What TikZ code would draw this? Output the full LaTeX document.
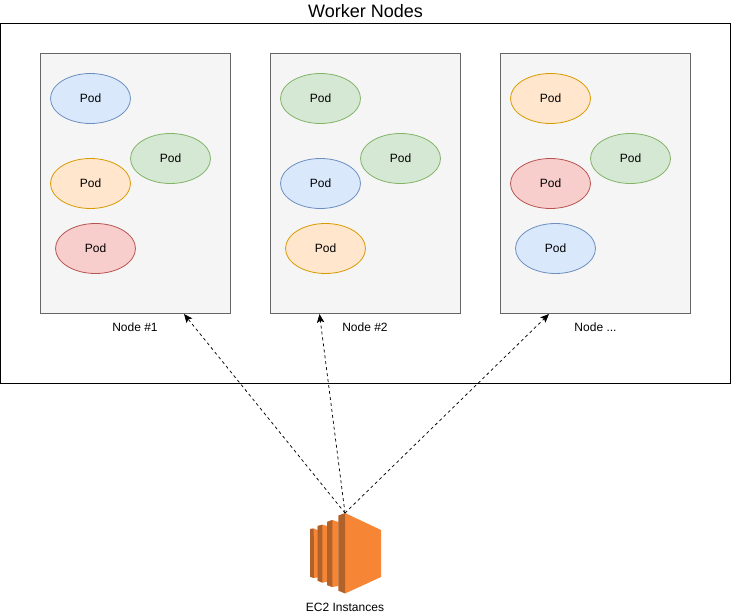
\documentclass[tikz,border=0pt]{standalone}
\usepackage{fontspec}
\setmainfont{Liberation Sans}
\usetikzlibrary{shapes.geometric,arrows.meta}
\definecolor{bluef}{HTML}{DAE8FC}\definecolor{blued}{HTML}{6C8EBF}
\definecolor{greenf}{HTML}{D5E8D4}\definecolor{greend}{HTML}{82B366}
\definecolor{orf}{HTML}{FFE6CC}\definecolor{ord}{HTML}{D79B00}
\definecolor{redf}{HTML}{F8CECC}\definecolor{redd}{HTML}{B85450}
\definecolor{greyf}{HTML}{F5F5F5}\definecolor{greyd}{HTML}{666666}
\definecolor{ecmain}{HTML}{F68536}\definecolor{ecdark}{HTML}{B0622A}
\tikzset{
  pod/.style={ellipse,draw=#1d,fill=#1f,line width=0.6pt,minimum width=60pt,minimum height=37.5pt,inner sep=0pt,font=\fontsize{9}{11}\selectfont,text=black},
  hostbox/.style={draw=greyd,fill=greyf,line width=0.75pt,minimum width=142.5pt,minimum height=195pt,inner sep=0pt},
  caption/.style={font=\fontsize{9}{11}\selectfont,text=black,inner sep=0pt},
  link/.style={draw=black,line width=0.55pt,dash pattern=on 2.25pt off 2.25pt,-{Stealth[length=6.5pt,width=5.5pt,inset=1.4pt]}}
}
\begin{document}
\begin{tikzpicture}[x=0.75pt,y=-0.75pt]
\useasboundingbox (0,0) rectangle (731,613);
\node[draw=black,line width=0.75pt,minimum width=547.5pt,minimum height=270pt,inner sep=0pt,fill=white] (workers) at (365.5,203.5) {};
\node[font=\fontsize{13.5}{16}\selectfont,inner sep=0pt] (title) at (365.5,11) {Worker Nodes};
\node[hostbox] (n1) at (135.5,183.5) {};
\node[hostbox] (n2) at (365.5,183.5) {};
\node[hostbox] (n3) at (595.5,183.5) {};
\node[caption] (l1) at (135,327.5) {Node \#1};
\node[caption] (l2) at (365,327.5) {Node \#2};
\node[caption] (l3) at (595.5,327.5) {Node ...};
\node[pod=blue] (p11) at (90.5,98.5) {Pod};
\node[pod=green] (p12) at (170.5,158.5) {Pod};
\node[pod=or] (p13) at (90.5,183.5) {Pod};
\node[pod=red] (p14) at (95.5,248.5) {Pod};
\node[pod=green] (p21) at (320.5,98.5) {Pod};
\node[pod=green] (p22) at (400.5,158.5) {Pod};
\node[pod=blue] (p23) at (320.5,183.5) {Pod};
\node[pod=or] (p24) at (325.5,248.5) {Pod};
\node[pod=or] (p31) at (550.5,98.5) {Pod};
\node[pod=green] (p32) at (630.5,158.5) {Pod};
\node[pod=red] (p33) at (550.5,183.5) {Pod};
\node[pod=blue] (p34) at (555.5,248.5) {Pod};
% EC2 icon
\fill[ecmain] (310,529) -- (313.5,528.5) -- (318,530) -- (318,577.3) -- (314,578) -- (310,576.7) -- cycle;
\fill[ecdark] (310,529) -- (313.7,528.5) -- (314,578) -- (310,576.7) -- cycle;
\fill[ecmain] (317.7,526) -- (322.3,524.7) -- (327.3,526) -- (327.3,581.7) -- (322.3,582.7) -- (317.7,580.7) -- cycle;
\fill[ecdark] (317.7,526) -- (322.3,524.7) -- (322.3,582.7) -- (317.7,580.7) -- cycle;
\fill[ecmain] (327,522) -- (332.3,520) -- (338.5,522) -- (338.5,586) -- (332.3,587) -- (327,585) -- cycle;
\fill[ecdark] (327,522) -- (332.3,520) -- (332.3,587) -- (327,585) -- cycle;
\fill[ecmain] (345,513) -- (381,530) -- (381,577) -- (345,593.5) -- cycle;
\fill[ecdark] (338.3,515.5) -- (345.2,513) -- (345.2,593.5) -- (338.3,590.7) -- cycle;
\coordinate (ec2) at (345,513);
\coordinate (t1) at (184,314);
\coordinate (t2) at (319.5,314);
\coordinate (t3) at (549,314);
\node[caption] (ec2label) at (345,607.5) {EC2 Instances};
\draw[link] (ec2) -- (t1);
\draw[link] (ec2) -- (t2);
\draw[link] (ec2) -- (t3);
\end{tikzpicture}
\end{document}
